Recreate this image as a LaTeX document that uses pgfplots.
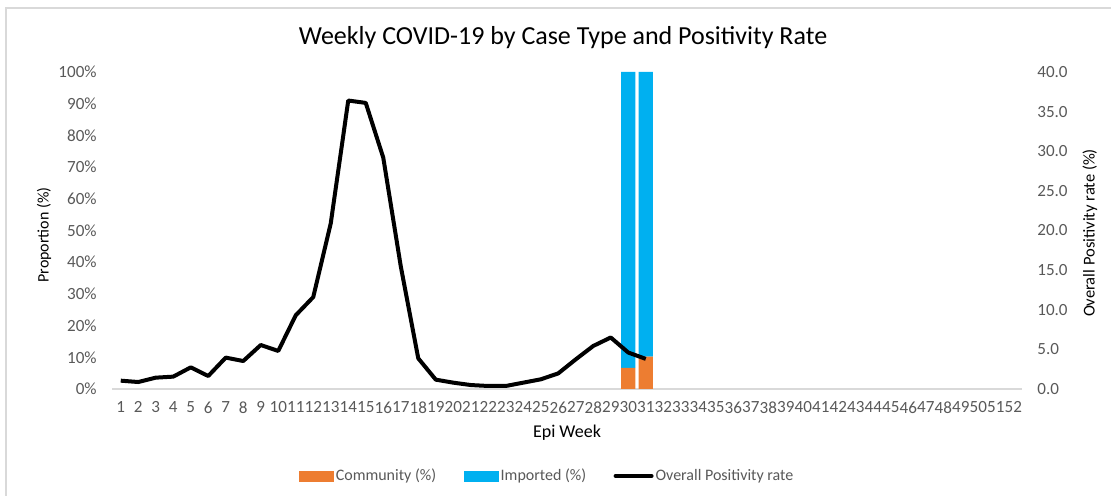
\documentclass[border=0pt]{standalone}
\usepackage{fontspec}
\setmainfont{Carlito}
\usepackage{pgfplots}
\pgfplotsset{compat=1.18}

\definecolor{commc}{HTML}{ED7D31}
\definecolor{impc}{HTML}{00B0F0}
\definecolor{tickc}{HTML}{595959}
\definecolor{axc}{HTML}{D9D9D9}

% image px -> pt : 0.75
\begin{document}
\begin{tikzpicture}
\path[use as bounding box] (0,0) rectangle (833.25pt,372pt);
\draw[axc, line width=0.8pt] (4.5pt,-5pt) rectangle (840pt,366pt);

\pgfplotsset{
  base/.style={
    scale only axis,
    width=682.5pt, height=237.75pt,
    at={(84pt,80.25pt)}, anchor=south west,
    xmin=0.5, xmax=52.5,
    enlarge x limits=false,
    major tick length=0pt,
    tick label style={font=\fontsize{12.8}{14}\selectfont, text=tickc},
    /pgf/number format/assume math mode=true,
  }
}

% bars: proportion (%)
\begin{axis}[base,
  ymin=0, ymax=100,
  ybar stacked, bar width=0.82,
  axis x line*=bottom,
  x axis line style={-, axc, line width=1.1pt},
  axis y line*=left,
  y axis line style={draw=none},
  xtick={1,...,52},
  x tick label style={yshift=-6pt},
  ytick={0,10,...,100},
  yticklabel={\pgfmathprintnumber{\tick}\%},
  y tick label style={xshift=-8pt},
]
\addplot[fill=commc, draw=none] coordinates {(30,6.7) (31,10.2)};
\addplot[fill=impc, draw=none] coordinates {(30,93.3) (31,89.8)};
\end{axis}

% line: overall positivity rate
\begin{axis}[base,
  ymin=0, ymax=40,
  hide x axis,
  axis y line*=right,
  y axis line style={draw=none},
  ytick={0,5,...,40},
  /pgf/number format/fixed,
  /pgf/number format/fixed zerofill,
  /pgf/number format/precision=1,
  y tick label style={xshift=8pt},
  legend columns=3,
  legend style={at={(0.478,-0.2744)}, anchor=center, draw=none,
    font=\fontsize{12}{14}\selectfont, text=tickc,
    /tikz/every even column/.append style={column sep=19pt},
    inner sep=0pt, nodes={inner sep=1.5pt}},
]
\addlegendimage{legend image code/.code={\fill[commc] (0pt,-3.75pt) rectangle (26pt,3.75pt);}}
\addlegendentry{Community (\%)}
\addlegendimage{legend image code/.code={\fill[impc] (0pt,-3.75pt) rectangle (26pt,3.75pt);}}
\addlegendentry{Imported (\%)}
\addplot[black, line width=3pt, line join=round,
  legend image code/.code={\draw[black, line width=3pt, line cap=round] (0pt,0pt) -- (27pt,0pt);}]
  coordinates {
  (1,1.05) (2,0.88) (3,1.43) (4,1.56) (5,2.73) (6,1.64) (7,3.96) (8,3.53)
  (9,5.55) (10,4.8) (11,9.3) (12,11.6) (13,20.9) (14,36.4) (15,36.1)
  (16,29.2) (17,15.5) (18,3.87) (19,1.18) (20,0.8) (21,0.5) (22,0.38)
  (23,0.38) (24,0.8) (25,1.22) (26,1.97) (27,3.74) (28,5.43) (29,6.5)
  (30,4.6) (31,3.8)
};
\addlegendentry{Overall Positivity rate}
\end{axis}

\node[font=\fontsize{19.5}{22}\selectfont] at (422.25pt,343.5pt) {Weekly COVID-19 by Case Type and Positivity Rate};
\node[font=\fontsize{13.5}{15}\selectfont] at (425.25pt,47.25pt) {Epi Week};
\node[font=\fontsize{12}{14}\selectfont, rotate=90] at (33pt,195.75pt) {Proportion (\%)};
\node[font=\fontsize{12.4}{14}\selectfont, rotate=90] at (817.5pt,197.25pt) {Overall Positivity rate (\%)};
\end{tikzpicture}
\end{document}
